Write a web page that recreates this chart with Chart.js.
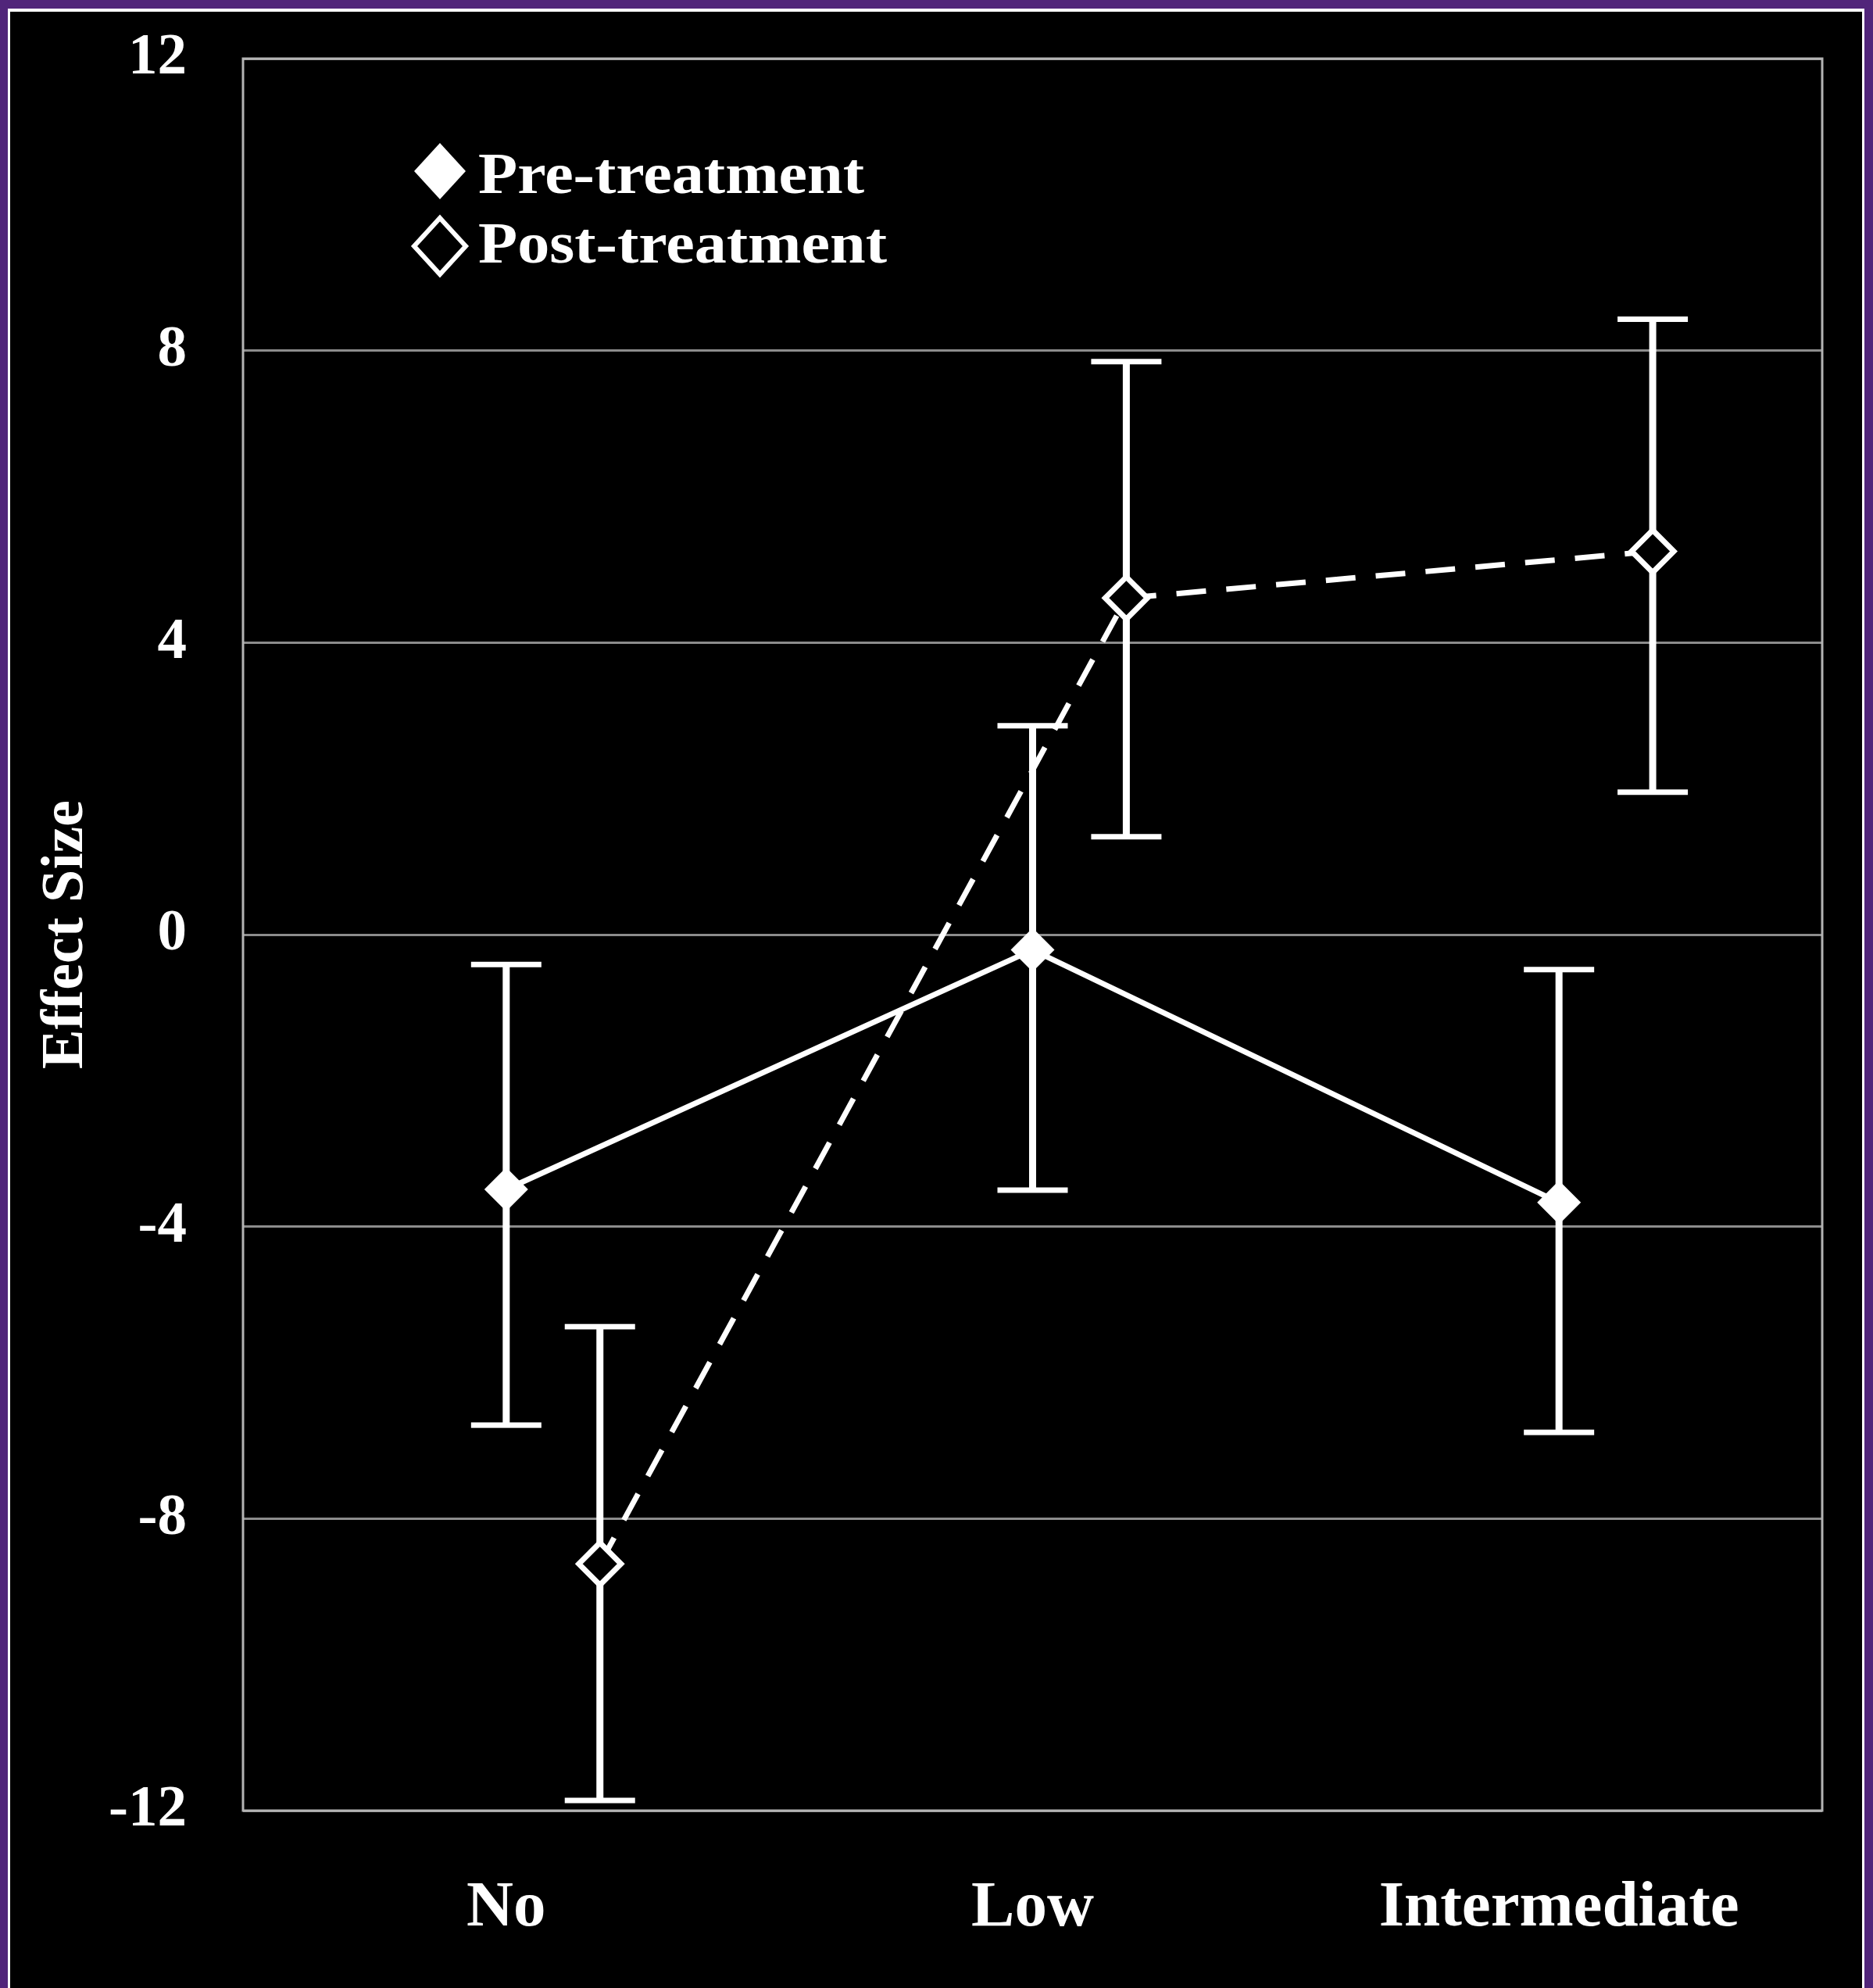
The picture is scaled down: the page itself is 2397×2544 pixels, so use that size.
<!DOCTYPE html>
<html>
<head>
<meta charset="utf-8">
<script src="https://cdn.jsdelivr.net/npm/chart.js@4/dist/chart.umd.min.js"></script>
<style>
  html, body { margin: 0; padding: 0; background: #000; }
  canvas { display: block; }
</style>
</head>
<body>
<canvas id="effectChart" width="2397" height="2544"></canvas>
<script>
// values
var categories = ["No", "Low", "Intermediate"];
var preMean = [-3.49, -0.21, -3.67];
var preLow = [-6.72, -3.50, -6.82];
var preHigh = [-0.41, 2.86, -0.48];
var postMean = [-8.62, 4.61, 5.25];
var postLow = [-11.86, 1.34, 1.95];
var postHigh = [-5.37, 7.85, 8.43];
var yTicks = [-12, -8, -4, 0, 4, 8, 12];
var seriesNames = ["Pre-treatment", "Post-treatment"];

// post-treatment points sit a little to the right of each category
var POST_SHIFT = 0.178;

var SERIF = "'Liberation Serif', 'Times New Roman', serif";

function toPoints(values, shift) {
  return values.map(function(v, i) { return { x: i + shift, y: v }; });
}

var errorBars = [
  { low: preLow, high: preHigh },
  { low: postLow, high: postHigh }
];

// purple frame with a thin white rule, black inside
var framePlugin = {
  id: 'frame',
  beforeDraw: function(chart) {
    var ctx = chart.ctx;
    ctx.save();
    ctx.fillStyle = '#51257a';
    ctx.fillRect(0, 0, chart.width, chart.height);
    ctx.fillStyle = '#ffffff';
    ctx.fillRect(10, 11, chart.width - 21, chart.height - 11);
    ctx.fillStyle = '#000000';
    ctx.fillRect(13, 15, chart.width - 27, chart.height - 15);
    ctx.restore();
  },
  afterDraw: function(chart) {
    var a = chart.chartArea;
    var ctx = chart.ctx;
    ctx.save();
    ctx.strokeStyle = '#b4b4b4';
    ctx.lineWidth = 3;
    ctx.strokeRect(a.left, a.top, a.right - a.left, a.bottom - a.top);
    ctx.restore();
  }
};

var errorBarPlugin = {
  id: 'errorBars',
  beforeDatasetsDraw: function(chart) {
    var ctx = chart.ctx;
    var xs = chart.scales.x;
    var ys = chart.scales.y;
    ctx.save();
    ctx.strokeStyle = '#ffffff';
    chart.data.datasets.forEach(function(ds, di) {
      var eb = errorBars[di];
      ds.data.forEach(function(p, i) {
        var x = xs.getPixelForValue(p.x);
        var yl = ys.getPixelForValue(eb.low[i]);
        var yh = ys.getPixelForValue(eb.high[i]);
        ctx.lineWidth = 9;
        ctx.beginPath();
        ctx.moveTo(x, yl);
        ctx.lineTo(x, yh);
        ctx.stroke();
        ctx.lineWidth = 7;
        ctx.beginPath();
        ctx.moveTo(x - 45, yl);
        ctx.lineTo(x + 45, yl);
        ctx.moveTo(x - 45, yh);
        ctx.lineTo(x + 45, yh);
        ctx.stroke();
      });
    });
    ctx.restore();
  }
};

// legend drawn inside the plot, upper left
var legendPlugin = {
  id: 'insideLegend',
  afterDraw: function(chart) {
    var ctx = chart.ctx;
    var a = chart.chartArea;
    var mx = a.left + 252;
    var markerY = [a.top + 144, a.top + 240];
    var textY = [a.top + 172, a.top + 261];
    ctx.save();
    ctx.font = 'bold 74px ' + SERIF;
    ctx.textBaseline = 'alphabetic';
    ctx.textAlign = 'left';
    chart.data.datasets.forEach(function(ds, i) {
      var cy = markerY[i];
      ctx.beginPath();
      ctx.moveTo(mx, cy - 36);
      ctx.lineTo(mx + 33, cy);
      ctx.lineTo(mx, cy + 36);
      ctx.lineTo(mx - 33, cy);
      ctx.closePath();
      ctx.fillStyle = ds.pointBackgroundColor;
      ctx.fill();
      if (ds.pointBorderWidth) {
        ctx.lineWidth = 6;
        ctx.strokeStyle = ds.pointBorderColor;
        ctx.stroke();
      }
      // the legend text in the figure is a bit wider than plain Times
      ctx.save();
      ctx.translate(mx + 49, textY[i]);
      ctx.scale(1.11, 1);
      ctx.fillStyle = '#ffffff';
      ctx.fillText(ds.label, 0, 0);
      ctx.restore();
    });
    ctx.restore();
  }
};

var config = {
  type: 'line',
  data: {
    datasets: [{
      label: seriesNames[0],
      data: toPoints(preMean, 0),
      borderColor: '#ffffff',
      borderWidth: 7,
      pointStyle: 'rectRot',
      pointRadius: 28,
      pointBackgroundColor: '#ffffff',
      pointBorderColor: '#ffffff',
      pointBorderWidth: 0,
      fill: false
    }, {
      label: seriesNames[1],
      data: toPoints(postMean, POST_SHIFT),
      borderColor: '#ffffff',
      borderWidth: 7,
      borderDash: [38, 26],
      pointStyle: 'rectRot',
      pointRadius: 27,
      pointBackgroundColor: '#000000',
      pointBorderColor: '#ffffff',
      pointBorderWidth: 7,
      fill: false
    }]
  },
  options: {
    responsive: false,
    animation: false,
    layout: { padding: { left: 0, top: 75, right: 65, bottom: 0 } },
    plugins: {
      legend: { display: false },
      tooltip: { enabled: false }
    },
    scales: {
      x: {
        type: 'linear',
        min: -0.5,
        max: 2.5,
        afterBuildTicks: function(scale) {
          scale.ticks = categories.map(function(c, i) { return { value: i }; });
        },
        afterFit: function(scale) {
          scale.height = 227;
          scale.paddingLeft = 0;
          scale.paddingRight = 0;
        },
        grid: { display: false, drawTicks: false },
        border: { display: false },
        ticks: {
          padding: 76,
          color: '#ffffff',
          font: { family: SERIF, size: 83, weight: 'bold' },
          callback: function(v) { return categories[v]; }
        }
      },
      y: {
        min: -12,
        max: 12,
        afterBuildTicks: function(scale) {
          scale.ticks = yTicks.map(function(v) { return { value: v }; });
        },
        afterFit: function(scale) {
          scale.width = 311;
          // let the top label hang above the plot like the original
          scale.paddingTop = 0;
          scale.paddingBottom = 0;
        },
        grid: { color: '#8c8c8c', lineWidth: 3, drawTicks: false },
        border: { display: false },
        ticks: {
          padding: 72,
          color: '#ffffff',
          font: { family: SERIF, size: 75, weight: 'bold' }
        },
        title: {
          display: true,
          text: 'Effect Size',
          color: '#ffffff',
          padding: { top: 40, bottom: 0 },
          font: { family: SERIF, size: 76, weight: 'bold' }
        }
      }
    }
  },
  plugins: [framePlugin, errorBarPlugin, legendPlugin]
};

var ctx = document.getElementById("effectChart").getContext("2d");
new Chart(ctx, config);
</script>
</body>
</html>
